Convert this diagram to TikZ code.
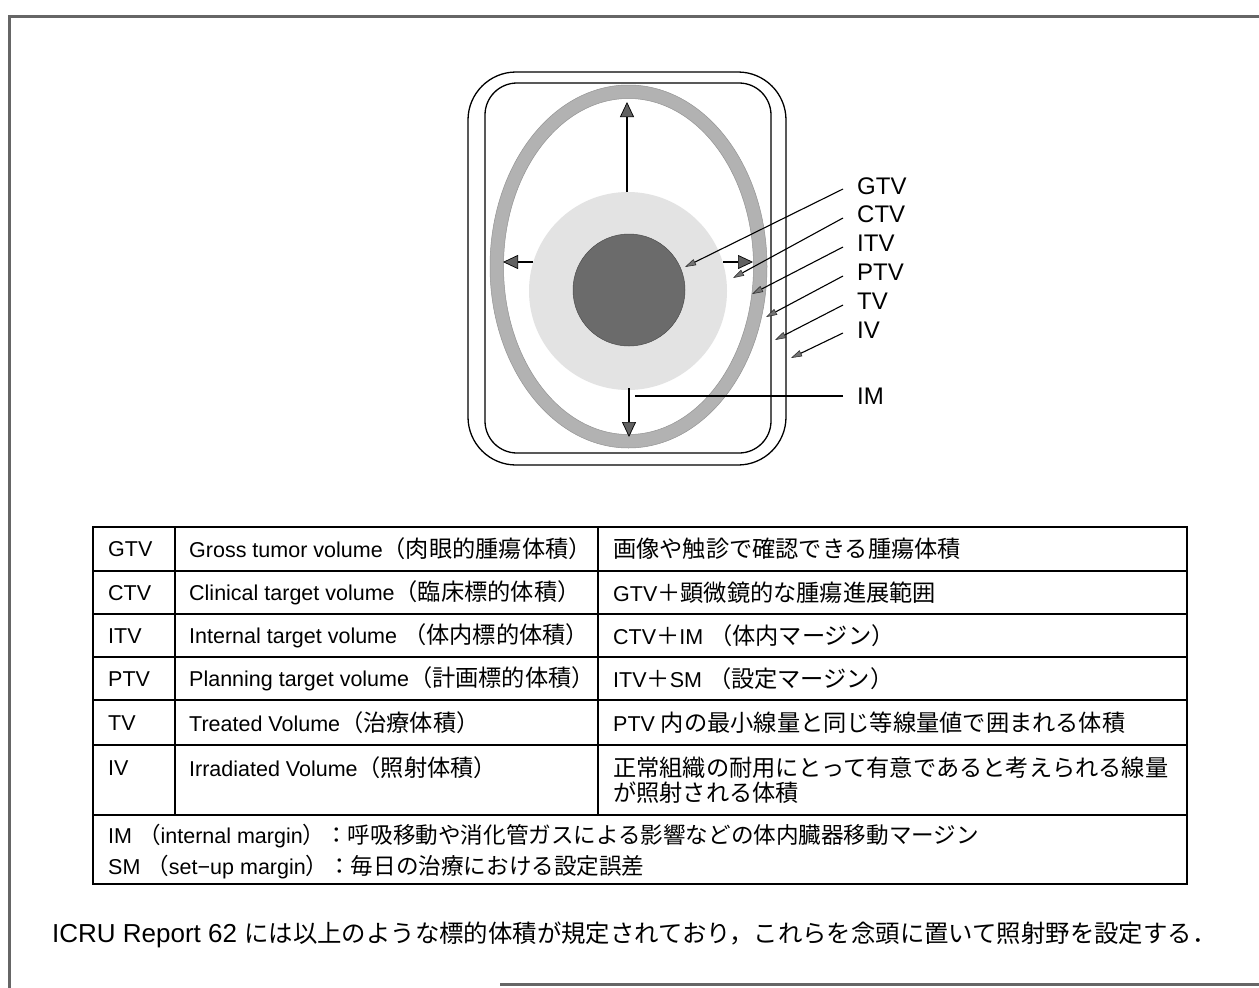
\documentclass[tikz,border=0pt]{standalone}
\usepackage{fontspec}
\setmainfont{Liberation Sans}
\newfontfamily\cjk[Scale=1.08]{Noto Sans CJK JP}
\newfontfamily\cjks[Scale=1.05]{Noto Sans CJK JP}
\newfontfamily\cjkplain{Noto Sans CJK JP}
\usetikzlibrary{arrows.meta}
\newcommand{\J}[1]{{\cjk #1}}
\newcommand{\Js}[1]{{\cjks #1}}
\begin{document}
\begin{tikzpicture}[x=1pt,y=-1pt,
  lab/.style={anchor=west,inner sep=0pt,font=\fontsize{24}{28}\selectfont},
  cell/.style={anchor=west,inner sep=0pt,font=\fontsize{21.5}{26}\selectfont},
  ptr/.style={line width=1.1pt,-{Triangle[length=11pt,width=6.5pt,fill=black!55,color=black!85,line width=0.5pt]}},
  bigarr/.style={line width=2pt,-{Triangle[length=15pt,width=14pt,fill=black!62,color=black,line width=0.7pt]}},
  framel/.style={line width=3pt,draw=black!60},
  gridl/.style={line width=1.1pt,draw=black}
]
\useasboundingbox (0,0) rectangle (1259,988);
\fill[white] (0,0) rectangle (1259,988);
% frame
\draw[framel] (1259,16) -- (9,16) -- (9,988);
\draw[framel] (500,984) -- (1259,984);

% diagram
\draw[line width=1.3pt, rounded corners=48pt] (468,72) rectangle (786,465);
\draw[line width=1.3pt, rounded corners=32pt] (485,83) rectangle (771,453);
\path[fill=black!30, draw=black!42, line width=0.5pt, even odd rule]
  (628.5,266.5) ellipse [x radius=138.5pt, y radius=181.5pt]
  (628.5,266.5) ellipse [x radius=125pt, y radius=168pt];
\fill[black!11] (628,291) circle [radius=99pt];
\path[fill=black!58, draw=black!70, line width=0.5pt] (629,290) circle [radius=56pt];

\coordinate (upS) at (627,192); \coordinate (upE) at (627,102);
\coordinate (dnS) at (629,388); \coordinate (dnE) at (629,437);
\coordinate (ltS) at (533,262); \coordinate (ltE) at (503,262);
\coordinate (rtS) at (723,262); \coordinate (rtE) at (753,262);
\draw[bigarr] (upS) -- (upE);
\draw[bigarr] (dnS) -- (dnE);
\draw[bigarr] (ltS) -- (ltE);
\draw[bigarr] (rtS) -- (rtE);

% labels
\node[lab] (gtv) at (857,186) {GTV};
\node[lab] (ctv) at (857,214) {CTV};
\node[lab] (itv) at (857,243) {ITV};
\node[lab] (ptv) at (857,272) {PTV};
\node[lab] (tv)  at (857,301) {TV};
\node[lab] (iv)  at (857,330) {IV};
\node[lab] (im)  at (857,396) {IM};
\coordinate (gtvE) at (685,267);
\coordinate (ctvE) at (733,278);
\coordinate (itvE) at (752,294);
\coordinate (ptvE) at (766,317);
\coordinate (tvE)  at (775,340);
\coordinate (ivE)  at (791,358);
\coordinate (imE)  at (635,396);
\draw[ptr] ([xshift=-14pt,yshift=-3pt]gtv.west) -- (gtvE);
\draw[ptr] ([xshift=-14pt,yshift=-4pt]ctv.west) -- (ctvE);
\draw[ptr] ([xshift=-14pt,yshift=-4pt]itv.west) -- (itvE);
\draw[ptr] ([xshift=-14pt,yshift=-4pt]ptv.west) -- (ptvE);
\draw[ptr] ([xshift=-14pt,yshift=-4pt]tv.west) -- (tvE);
\draw[ptr] ([xshift=-14pt,yshift=-3pt]iv.west) -- (ivE);
\draw[line width=1.1pt] ([xshift=-14pt]im.west) -- (imE);

% table grid
\draw[gridl] (93,527) rectangle (1187,884);
\foreach \yy in {571,614,657,700,745,815} \draw[gridl] (93,\yy) -- (1187,\yy);
\draw[gridl] (175,527) -- (175,815);
\draw[gridl] (598,527) -- (598,815);

% table text
\node[cell] (a1) at (108,549) {GTV};
\node[cell] (a2) at (108,593) {CTV};
\node[cell] (a3) at (108,636) {ITV};
\node[cell] (a4) at (108,679) {PTV};
\node[cell] (a5) at (108,723) {TV};
\node[cell] (a6) at (108,768) {IV};
\node[cell] (b1) at (189,549) {Gross tumor volume\J{（肉眼的腫瘍体積）}};
\node[cell] (b2) at (189,593) {Clinical target volume\J{（臨床標的体積）}};
\node[cell] (b3) at (189,636) {Internal target volume \J{（体内標的体積）}};
\node[cell] (b4) at (189,679) {Planning target volume\J{（計画標的体積）}};
\node[cell] (b5) at (189,723) {Treated Volume\J{（治療体積）}};
\node[cell] (b6) at (189,768) {Irradiated Volume\J{（照射体積）}};
\node[cell] (c1) at (613,549) {\J{画像や触診で確認できる腫瘍体積}};
\node[cell] (c2) at (613,593) {GTV\J{＋顕微鏡的な腫瘍進展範囲}};
\node[cell] (c3) at (613,636) {CTV\J{＋}IM \J{（体内マージン）}};
\node[cell] (c4) at (613,679) {ITV\J{＋}SM \J{（設定マージン）}};
\node[cell] (c5) at (613,723) {PTV \J{内の最小線量と同じ等線量値で囲まれる体積}};
\node[cell] (c6) at (613,768) {\J{正常組織の耐用にとって有意であると考えられる線量}};
\node[cell] (c6b) at (613,793) {\J{が照射される体積}};
\node[cell] (f1) at (108,836) {IM \Js{（}internal margin\Js{）：呼吸移動や消化管ガスによる影響などの体内臓器移動マージン}};
\node[cell] (f2) at (108,867) {SM \Js{（}set−up margin\Js{）：毎日の治療における設定誤差}};

% footer
\node[anchor=west,inner sep=0pt] (foot) at (52,935)
  {{\fontsize{26}{30}\selectfont ICRU Report 62 }{\cjkplain\fontsize{24.4}{28}\selectfont には以上のような標的体積が規定されており，これらを念頭に置いて照射野を設定する．}};
\end{tikzpicture}
\end{document}
